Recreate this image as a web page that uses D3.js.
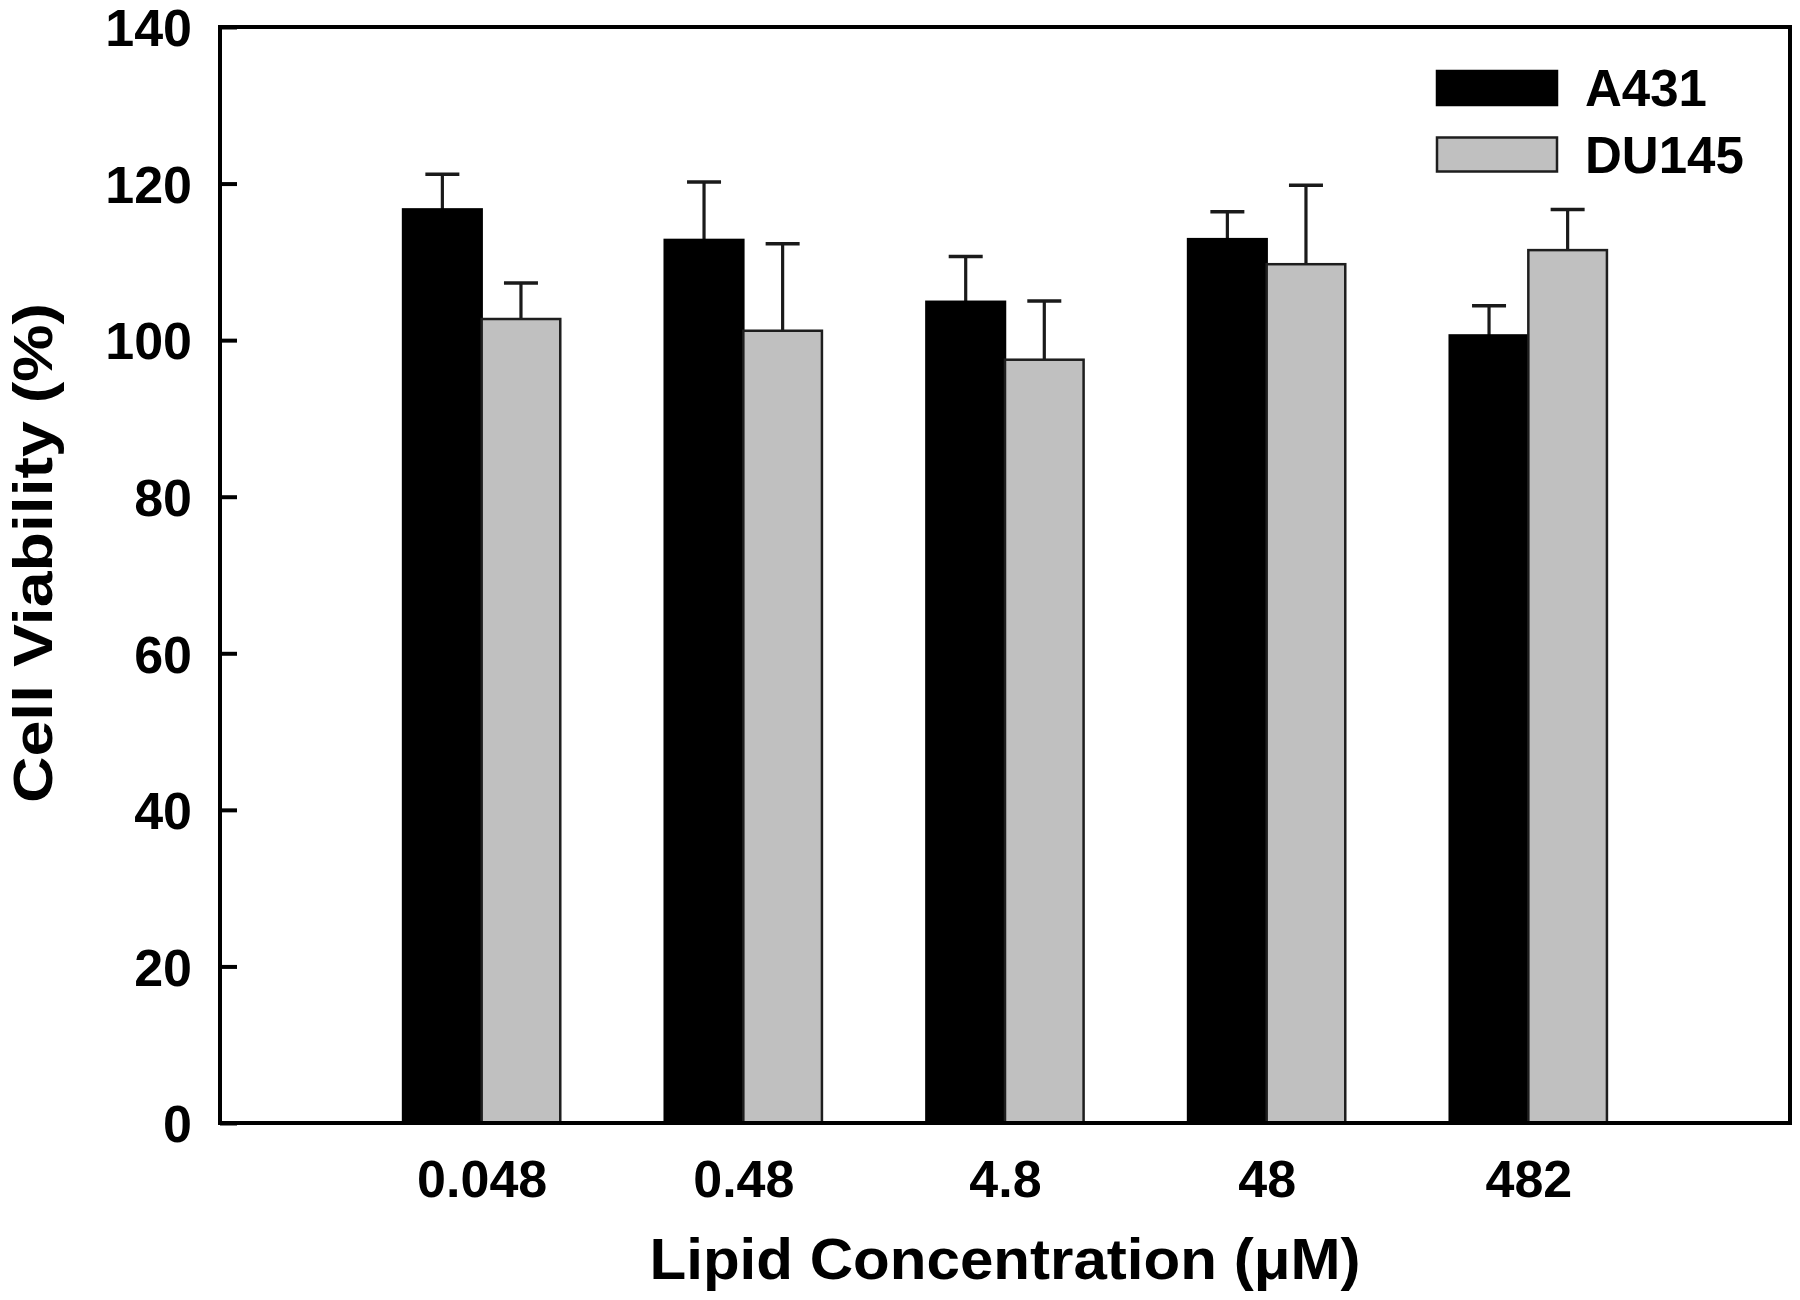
<!DOCTYPE html>
<html><head><meta charset="utf-8">
<script src="https://cdn.jsdelivr.net/npm/d3@7"></script>
<style>html,body{margin:0;padding:0;background:#fff;}</style>
</head><body>
<svg id="chart" width="1800" height="1300"></svg>
<script>
const categories = ["0.048", "0.48", "4.8", "48", "482"];
const seriesNames = ["A431", "DU145"];
const a431 = [116.7, 112.8, 104.9, 112.9, 100.6];
const a431Err = [4.5, 7.4, 5.8, 3.5, 3.8];
const du145 = [102.7, 101.2, 97.5, 109.7, 111.5];
const du145Err = [4.6, 11.1, 7.5, 10.1, 5.2];
const yTicks = [0, 20, 40, 60, 80, 100, 120, 140];

const FONT = "'Liberation Sans', Arial, Helvetica, sans-serif";
const svg = d3.select("#chart");
const L = 220, R = 1790, T = 27, B = 1123;
const x = d3.scaleLinear().domain([0, categories.length + 1]).range([L, R]);
const y = d3.scaleLinear().domain([0, 140]).range([B, T]);
const barW = 78.6;
const fills = ["#000000", "#c0c0c0"];
const strokes = ["#000000", "#1e1e1e"];

const series = [
  {name: seriesNames[0], vals: a431, errs: a431Err, off: -1},
  {name: seriesNames[1], vals: du145, errs: du145Err, off: 0}
];

const g = svg.append("g");
series.forEach((s, si) => {
  const data = s.vals.map((v, i) => ({v, e: s.errs[i], i}));
  g.selectAll(".err" + si).data(data).enter().append("line")
    .attr("x1", d => x(d.i + 1) + (s.off + 0.5) * barW)
    .attr("x2", d => x(d.i + 1) + (s.off + 0.5) * barW)
    .attr("y1", d => y(d.v)).attr("y2", d => y(d.v + d.e))
    .attr("stroke", "#1a1a1a").attr("stroke-width", 3.2);
  g.selectAll(".cap" + si).data(data).enter().append("line")
    .attr("x1", d => x(d.i + 1) + (s.off + 0.5) * barW - 17)
    .attr("x2", d => x(d.i + 1) + (s.off + 0.5) * barW + 17)
    .attr("y1", d => y(d.v + d.e)).attr("y2", d => y(d.v + d.e))
    .attr("stroke", "#1a1a1a").attr("stroke-width", 3.5);
  g.selectAll(".bar" + si).data(data).enter().append("rect")
    .attr("x", d => x(d.i + 1) + s.off * barW)
    .attr("y", d => y(d.v))
    .attr("width", barW)
    .attr("height", d => y(0) - y(d.v))
    .attr("fill", fills[si])
    .attr("stroke", strokes[si]).attr("stroke-width", 2.5);
});

// frame
svg.append("rect").attr("x", L).attr("y", T).attr("width", R - L).attr("height", B - T)
  .attr("fill", "none").attr("stroke", "#000").attr("stroke-width", 4);

// y axis ticks (inward) and labels
const yAxis = d3.axisLeft(y).tickValues(yTicks).tickSize(-17).tickPadding(30)
  .tickFormat(d3.format("d"));
const ya = svg.append("g").attr("transform", `translate(${L},0)`).call(yAxis);
ya.select(".domain").remove();
ya.selectAll(".tick line").attr("stroke", "#000").attr("stroke-width", 4);
ya.selectAll(".tick text").attr("font-family", FONT).attr("font-weight", "bold")
  .attr("font-size", 52).attr("fill", "#000").attr("x", -28).attr("dy", "0.36em");

// x axis labels
const xAxis = d3.axisBottom(x).tickValues(d3.range(1, categories.length + 1))
  .tickSize(0).tickPadding(0).tickFormat(d => categories[d - 1]);
const xa = svg.append("g").attr("transform", `translate(0,${B})`).call(xAxis);
xa.select(".domain").remove();
xa.selectAll(".tick text").attr("font-family", FONT).attr("font-weight", "bold")
  .attr("font-size", 52).attr("fill", "#000").attr("y", 74).attr("dy", 0);

// axis titles
svg.append("text").attr("x", (L + R) / 2).attr("y", 1279)
  .attr("text-anchor", "middle").attr("font-family", FONT).attr("font-weight", "bold")
  .attr("font-size", 58).attr("textLength", 711).attr("lengthAdjust", "spacingAndGlyphs")
  .text("Lipid Concentration (\u03BCM)");
svg.append("text").attr("transform", "translate(52,553) rotate(-90)")
  .attr("text-anchor", "middle").attr("font-family", FONT).attr("font-weight", "bold")
  .attr("font-size", 56).attr("textLength", 500).attr("lengthAdjust", "spacingAndGlyphs")
  .text("Cell Viability (%)");

// legend
const leg = svg.append("g");
seriesNames.forEach((n, i) => {
  const yy = 71 + i * 66.5;
  leg.append("rect").attr("x", 1437).attr("y", yy).attr("width", 120).attr("height", 34)
    .attr("fill", fills[i]).attr("stroke", strokes[i]).attr("stroke-width", 2.5);
  leg.append("text").attr("x", 1585).attr("y", yy + 35).attr("font-family", FONT)
    .attr("font-weight", "bold").attr("font-size", 51).text(n);
});
</script>
</body></html>
